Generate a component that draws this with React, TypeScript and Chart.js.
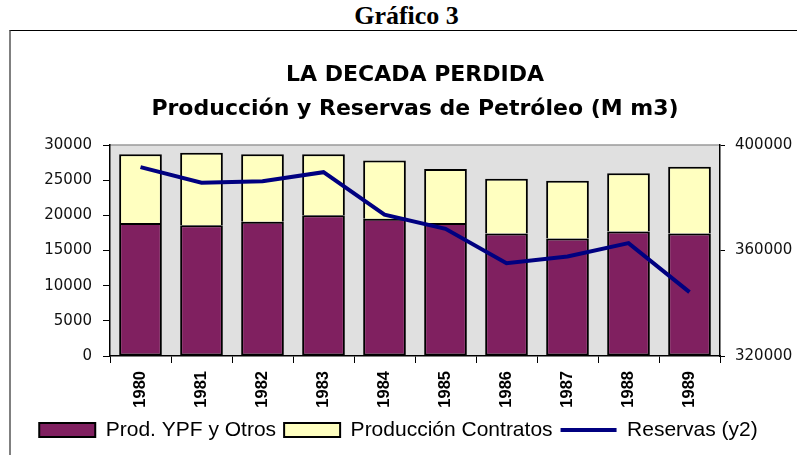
import React, { useEffect, useRef } from "react";
import { Chart, registerables } from "chart.js";

Chart.register(...registerables);

const years = ["1980", "1981", "1982", "1983", "1984", "1985", "1986", "1987", "1988", "1989"];
const prodYPF = [18900, 18600, 19100, 20000, 19500, 18900, 17400, 16700, 17700, 17400];
const prodContratos = [9800, 10300, 9600, 8700, 8300, 7700, 7800, 8200, 8300, 9500];
const reservas = [391600, 385700, 386300, 389700, 373600, 368200, 355200, 357700, 362800, 344200];

const titleText = "LA DECADA PERDIDA";
const subtitleText = "Producción y Reservas de Petróleo (M m3)";
const seriesNames = ["Prod. YPF y Otros", "Producción Contratos", "Reservas (y2)"];

const plotBg = {
  id: "plotBg",
  beforeDraw(chart: any) {
    const { ctx, chartArea } = chart;
    const { left, top, right, bottom } = chartArea;
    ctx.save();
    ctx.fillStyle = "#e0e0e0";
    ctx.fillRect(left, top, right - left, bottom - top);
    ctx.strokeStyle = "#9a9a9a";
    ctx.lineWidth = 1.5;
    ctx.beginPath();
    ctx.moveTo(left, top);
    ctx.lineTo(right, top);
    ctx.stroke();
    ctx.restore();
  },
};

const plain = (v: any) => String(v);

export default function App() {
  const ref = useRef<HTMLCanvasElement | null>(null);

  useEffect(() => {
    if (!ref.current) return;
    const chart = new Chart(ref.current, {
      type: "bar",
      data: {
        labels: years,
        datasets: [
          {
            type: "bar",
            label: seriesNames[0],
            data: prodYPF,
            backgroundColor: "#802060",
            borderColor: "#000000",
            borderWidth: 2,
            borderSkipped: false,
            categoryPercentage: 0.7,
            barPercentage: 1,
            pointStyle: "rect",
            yAxisID: "y",
            order: 1,
          } as any,
          {
            type: "bar",
            label: seriesNames[1],
            data: prodContratos,
            backgroundColor: "#ffffc0",
            borderColor: "#000000",
            borderWidth: 2,
            borderSkipped: "start",
            categoryPercentage: 0.7,
            barPercentage: 1,
            pointStyle: "rect",
            yAxisID: "y",
            order: 1,
          } as any,
          {
            type: "line",
            label: seriesNames[2],
            data: reservas,
            borderColor: "#000080",
            backgroundColor: "#000080",
            borderWidth: 4,
            pointRadius: 0,
            tension: 0,
            fill: false,
            pointStyle: "line",
            yAxisID: "y2",
            order: 0,
          } as any,
        ],
      },
      options: {
        animation: false,
        responsive: false,
        maintainAspectRatio: false,
        layout: { padding: { top: 0, bottom: 4.5, left: 0, right: 0 } },
        plugins: {
          tooltip: { enabled: false },
          title: {
            display: true,
            text: titleText,
            fullSize: false,
            color: "#000",
            font: { family: "'DejaVu Sans'", size: 22, weight: "bold", lineHeight: 1.2 },
            padding: { top: 62.5, bottom: 7 },
          },
          subtitle: {
            display: true,
            text: subtitleText,
            fullSize: false,
            color: "#000",
            font: { family: "'DejaVu Sans'", size: 22, weight: "bold", lineHeight: 1.2 },
            padding: { top: 0, bottom: 22.7 },
          },
          legend: {
            display: true,
            position: "bottom",
            labels: {
              usePointStyle: true,
              pointStyleWidth: 56,
              boxHeight: 14,
              padding: 8,
              color: "#000",
              font: { family: "'Liberation Sans', Arial", size: 21 },
              sort: (a: any, b: any) => a.datasetIndex - b.datasetIndex,
            },
          },
        },
        scales: {
          x: {
            stacked: true,
            offset: true,
            grid: {
              display: true,
              drawOnChartArea: false,
              drawTicks: true,
              tickLength: 7,
              color: "#000",
              offset: true,
            },
            border: { display: true, color: "#000", width: 1.5 },
            ticks: {
              minRotation: 90,
              maxRotation: 90,
              autoSkip: false,
              padding: 8,
              color: "#000",
              font: { family: "'Liberation Sans', Arial", size: 16.5, weight: "bold" },
            },
            afterFit: (s: any) => {
              s.height = 55.5;
            },
          },
          y: {
            position: "left",
            stacked: true,
            min: 0,
            max: 30000,
            ticks: {
              stepSize: 5000,
              padding: 11,
              color: "#111",
              callback: plain,
              font: { family: "'DejaVu Sans'", size: 15 },
            },
            grid: { drawOnChartArea: false, tickLength: 7, color: "#000" },
            border: { display: true, color: "#000", width: 1.5 },
            afterFit: (s: any) => {
              s.width = 110;
            },
          },
          y2: {
            position: "right",
            min: 320000,
            max: 400000,
            ticks: {
              stepSize: 40000,
              padding: 10,
              color: "#111",
              callback: plain,
              font: { family: "'DejaVu Sans'", size: 15 },
            },
            grid: { drawOnChartArea: false, tickLength: 5, color: "#000" },
            border: { display: true, color: "#000", width: 1.5 },
            afterFit: (s: any) => {
              s.width = 77;
            },
          },
        },
      } as any,
      plugins: [plotBg],
    });
    return () => chart.destroy();
  }, []);

  return (
    <div
      style={{
        position: "fixed",
        left: 0,
        top: 0,
        width: 797,
        height: 455,
        overflow: "hidden",
        background: "#fff",
      }}
    >
      <div
        style={{
          position: "absolute",
          left: 0,
          top: 3,
          width: 813,
          textAlign: "center",
          fontFamily: "'Liberation Serif', 'Times New Roman', serif",
          fontWeight: "bold",
          fontSize: 26,
          lineHeight: "26px",
          color: "#000",
        }}
      >
        Gráfico 3
      </div>
      <div
        style={{
          position: "absolute",
          left: 9,
          top: 30,
          width: 900,
          height: 500,
          borderLeft: "2px solid #808080",
          borderTop: "1px solid #000",
          boxSizing: "border-box",
        }}
      />
      <canvas
        ref={ref}
        width={797}
        height={455}
        style={{ position: "absolute", left: 0, top: 0, width: 797, height: 455 }}
      />
    </div>
  );
}
